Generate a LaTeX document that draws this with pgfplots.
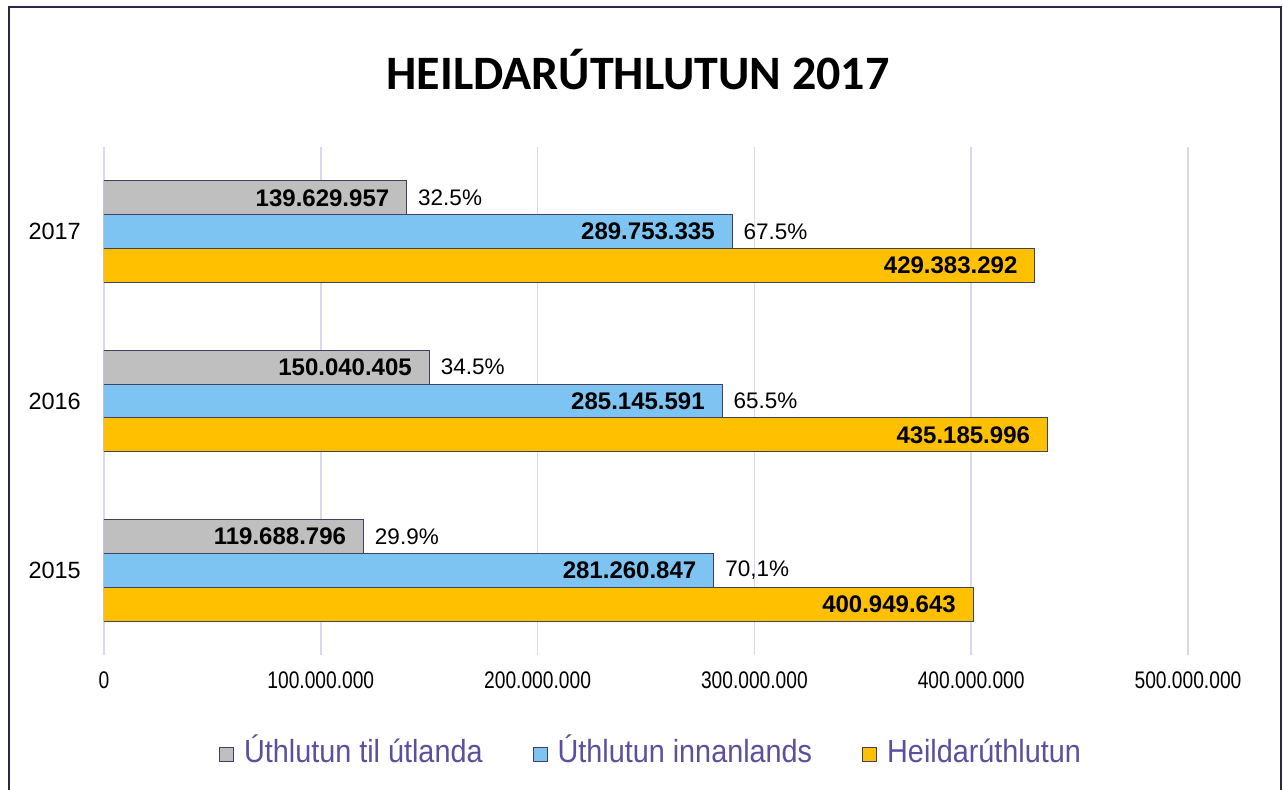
\documentclass[border=0pt]{standalone}
\usepackage{pgfplots}
\pgfplotsset{compat=1.18}
\usepackage{fontspec}
\setmainfont{Liberation Sans}
\newfontfamily\lsans{Liberation Sans}
\newfontfamily\lsansn[FakeStretch=0.8]{Liberation Sans}
\newfontfamily\lsansl[FakeStretch=0.9]{Liberation Sans}
\newfontfamily\carlito{Carlito}
\definecolor{cgrey}{HTML}{BFBFBF}
\definecolor{cblue}{HTML}{7DC4F2}
\definecolor{corange}{HTML}{FFC000}
\definecolor{barline}{HTML}{404060}
\definecolor{gridc}{HTML}{D9D9EE}
\definecolor{legtext}{HTML}{5B4FA0}
\definecolor{framec}{HTML}{2B2548}
\begin{document}
\begin{tikzpicture}
\useasboundingbox (0pt,0pt) rectangle (1283pt,790pt);
\fill[white] (0pt,0pt) rectangle (1283pt,790pt);
\draw[line width=2pt, framec] (9pt,-10pt) -- (9pt,783pt) -- (1281pt,783pt) -- (1281pt,-10pt);
\node[anchor=base, font=\carlito\bfseries\fontsize{48}{48}\selectfont] at (638pt,700pt) {HEILDARÚTHLUTUN 2017};
\begin{axis}[
  at={(104pt,135pt)}, anchor=south west,
  scale only axis, width=1084pt, height=508pt,
  xbar, bar width=0.2,
  xmin=0, xmax=500000000,
  ymin=0.5, ymax=3.5,
  ytick={1,2,3}, yticklabels={2015,2016,2017},
  xtick={0,100000000,200000000,300000000,400000000,500000000},
  xticklabels={0,100.000.000,200.000.000,300.000.000,400.000.000,500.000.000},
  xmajorgrids, grid style={gridc, line width=1.5pt},
  axis line style={draw=none},
  major tick length=0pt, tick style={draw=none},
  xticklabel style={font=\lsansn\fontsize{24}{24}\selectfont, inner sep=0pt, anchor=north, yshift=-17pt},
  yticklabel style={font=\lsans\fontsize{23.5}{24}\selectfont, inner sep=0pt, anchor=east, xshift=-23pt},
  scaled x ticks=false,
  legend style={at={(0.5037,-0.195)}, anchor=center, draw=none, fill=none,
    legend columns=-1, font=\lsansl\fontsize{32}{32}\selectfont, text=legtext,
    nodes={inner sep=0pt, text depth=7pt, text height=23pt},
    /tikz/every even column/.append style={column sep=50pt},
    /tikz/every odd column/.append style={column sep=10pt}},
  legend image code/.code={\draw[#1, draw=barline, line width=1pt] (0pt,-7pt) rectangle (14pt,7pt);},
  every axis plot/.append style={draw=barline, line width=1pt},
  point meta=explicit symbolic,
  nodes near coords style={text=black, inner sep=0pt},
]
\addplot[fill=cgrey, bar shift=0.2, nodes near coords, nodes near coords style={anchor=east, xshift=-17pt, font=\lsans\bfseries\fontsize{24}{24}\selectfont}]
  coordinates {(119688796,1) [119.688.796] (150040405,2) [150.040.405] (139629957,3) [139.629.957]};
\addlegendentry{Úthlutun til útlanda}
\addplot[fill=cblue, bar shift=0, nodes near coords, nodes near coords style={anchor=east, xshift=-17pt, font=\lsans\bfseries\fontsize{24}{24}\selectfont}]
  coordinates {(281260847,1) [281.260.847] (285145591,2) [285.145.591] (289753335,3) [289.753.335]};
\addlegendentry{Úthlutun innanlands}
\addplot[fill=corange, bar shift=-0.2, nodes near coords, nodes near coords style={anchor=east, xshift=-17pt, font=\lsans\bfseries\fontsize{24}{24}\selectfont}]
  coordinates {(400949643,1) [400.949.643] (435185996,2) [435.185.996] (429383292,3) [429.383.292]};
\addlegendentry{Heildarúthlutun}
\addplot[forget plot, draw=none, fill=none, bar shift=0.2, nodes near coords, nodes near coords style={anchor=west, xshift=11pt, font=\lsans\fontsize{22.5}{24}\selectfont}]
  coordinates {(119688796,1) [29.9\%] (150040405,2) [34.5\%] (139629957,3) [32.5\%]};
\addplot[forget plot, draw=none, fill=none, bar shift=0, nodes near coords, nodes near coords style={anchor=west, xshift=11pt, font=\lsans\fontsize{22.5}{24}\selectfont}]
  coordinates {(281260847,1) [70{,}1\%] (285145591,2) [65.5\%] (289753335,3) [67.5\%]};
\end{axis}
\end{tikzpicture}
\end{document}
